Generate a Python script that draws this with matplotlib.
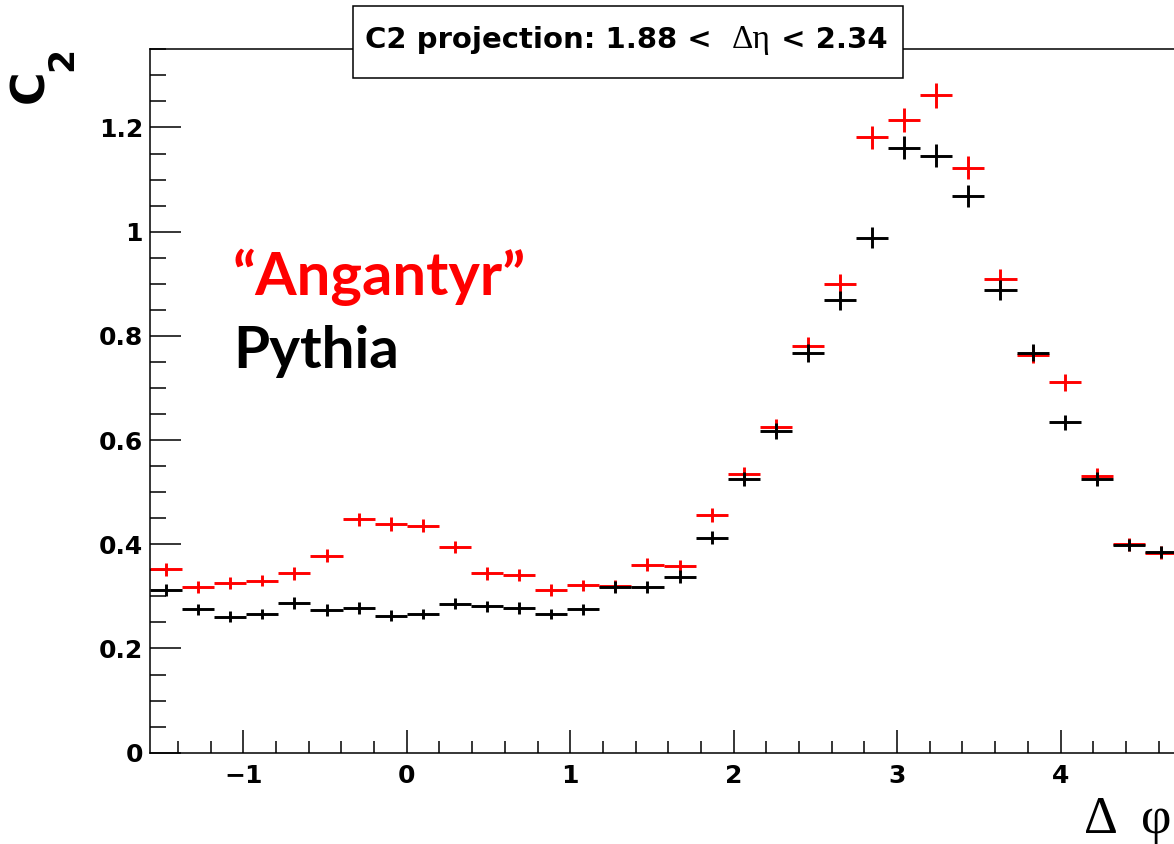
import numpy as np
import matplotlib
matplotlib.use('Agg')
import matplotlib.pyplot as plt
from matplotlib.patches import Rectangle
from matplotlib.ticker import MultipleLocator, FuncFormatter
from matplotlib.offsetbox import TextArea, HPacker, AnchoredOffsetbox


# 32 bins in delta phi from -pi/2 to 3pi/2
phi_edges = np.linspace(-np.pi / 2, 3 * np.pi / 2, 33)
phi = 0.5 * (phi_edges[:-1] + phi_edges[1:])
half_width = 0.5 * np.diff(phi_edges)

angantyr = [0.352, 0.318, 0.326, 0.330, 0.344, 0.378, 0.448, 0.439, 0.436, 0.395,
            0.344, 0.341, 0.312, 0.321, 0.320, 0.361, 0.358, 0.456, 0.534, 0.625,
            0.781, 0.899, 1.181, 1.215, 1.262, 1.123, 0.910, 0.764, 0.711, 0.532,
            0.400, 0.384]
angantyr_err = [0.012, 0.011, 0.011, 0.011, 0.012, 0.012, 0.013, 0.013, 0.013, 0.012,
                0.012, 0.012, 0.011, 0.011, 0.011, 0.012, 0.012, 0.013, 0.014, 0.016,
                0.017, 0.019, 0.022, 0.023, 0.024, 0.022, 0.019, 0.017, 0.016, 0.014,
                0.012, 0.012]

pythia = [0.312, 0.275, 0.261, 0.266, 0.287, 0.274, 0.278, 0.263, 0.266, 0.286,
          0.281, 0.278, 0.266, 0.275, 0.318, 0.318, 0.338, 0.413, 0.525, 0.617,
          0.767, 0.868, 0.988, 1.161, 1.146, 1.068, 0.888, 0.768, 0.634, 0.525,
          0.399, 0.385]
pythia_err = [0.011, 0.011, 0.010, 0.010, 0.011, 0.011, 0.011, 0.010, 0.010, 0.011,
              0.011, 0.011, 0.010, 0.011, 0.011, 0.011, 0.012, 0.012, 0.014, 0.015,
              0.017, 0.018, 0.020, 0.022, 0.022, 0.021, 0.019, 0.017, 0.015, 0.014,
              0.012, 0.012]

W, H = 1174, 844
fig = plt.figure(figsize=(W / 100, H / 100), dpi=100)
ax = fig.add_axes([150 / W, 1 - 752.7 / H, (1177 - 150) / W, (752.7 - 49.3) / H])

ax.errorbar(phi, angantyr, xerr=half_width, yerr=angantyr_err, fmt='none',
            ecolor='#ff0000', elinewidth=2.1, capsize=0)
ax.errorbar(phi, pythia, xerr=half_width, yerr=pythia_err, fmt='none',
            ecolor='black', elinewidth=2.1, capsize=0)

ax.set_xlim(-np.pi / 2, 3 * np.pi / 2)
ax.set_ylim(0, 1.35)

for s in ax.spines.values():
    s.set_linewidth(1.1)

fmt = FuncFormatter(lambda v, p: f"{v:g}".replace('-', '\u2212'))
ax.xaxis.set_major_locator(MultipleLocator(1))
ax.xaxis.set_minor_locator(MultipleLocator(0.2))
ax.yaxis.set_major_locator(MultipleLocator(0.2))
ax.yaxis.set_minor_locator(MultipleLocator(0.05))
ax.xaxis.set_major_formatter(fmt)
ax.yaxis.set_major_formatter(fmt)

ax.tick_params(axis='x', which='major', direction='in', length=16.5, width=1.1, pad=8)
ax.tick_params(axis='x', which='minor', direction='in', length=8.6, width=1.1)
ax.tick_params(axis='y', which='major', direction='in', length=22, width=1.1, pad=5)
ax.tick_params(axis='y', which='minor', direction='in', length=11.3, width=1.1)
for lab in ax.get_xticklabels() + ax.get_yticklabels():
    lab.set_fontfamily('DejaVu Sans')
    lab.set_fontweight('bold')
    lab.set_fontsize(18)

# axis titles
fig.text(1084 / W, 1 - 833 / H, '\u0394', family='Liberation Serif',
         fontsize=38, ha='left', va='baseline')
fig.text(1141 / W, 1 - 833 / H, '\u03c6', family='Liberation Serif',
         fontsize=38, ha='left', va='baseline')
fig.text(31 / W, 1 - 86 / H, 'C', family='DejaVu Sans', weight='bold',
         fontsize=33, rotation=90, ha='center', va='center')
fig.text(62 / W, 1 - 59 / H, '2', family='DejaVu Sans', weight='bold',
         fontsize=25, rotation=90, ha='center', va='center')

# title box
box = Rectangle((353 / W, 1 - 78 / H), 550 / W, 72 / H, transform=fig.transFigure,
                facecolor='white', edgecolor='black', linewidth=1.1, zorder=5)
fig.add_artist(box)
bold = dict(family='DejaVu Sans', weight='bold', size=21)
parts = HPacker(children=[TextArea('C2 projection: 1.88 <  ', textprops=bold),
                          TextArea('\u0394\u03b7', textprops=dict(family='Liberation Serif', size=24)),
                          TextArea(' < 2.34', textprops=bold)],
                align='baseline', pad=0, sep=0)
title = AnchoredOffsetbox(loc='center', child=parts, pad=0, borderpad=0, frameon=False,
                          bbox_to_anchor=(626 / W, 1 - 40 / H),
                          bbox_transform=fig.transFigure)
title.set_zorder(6)
fig.add_artist(title)

# labels for the two samples
fig.text(233 / W, 1 - 295 / H, '\u201cAngantyr\u201d', family='Lato', weight='bold',
         fontsize=43, color='#ff0000', ha='left', va='baseline')
fig.text(233 / W, 1 - 368 / H, 'Pythia', family='Lato', weight='bold',
         fontsize=42, color='black', ha='left', va='baseline')

fig.savefig('out.png', dpi=100)
